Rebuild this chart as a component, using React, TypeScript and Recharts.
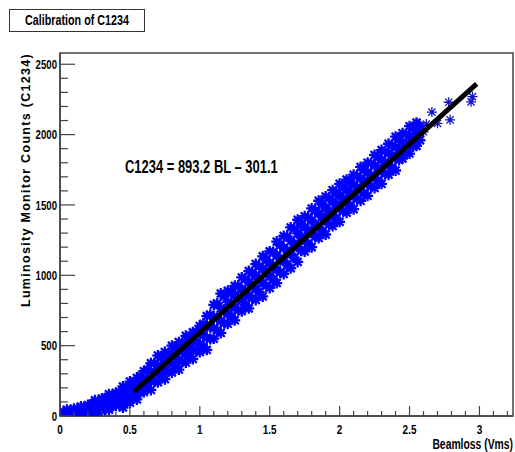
import { ReferenceArea, Scatter, ScatterChart, XAxis, YAxis } from 'recharts'

// blue band, read row by row (lower edge, inner rows, upper edge)
const beamloss = [
  0.05, 0.1, 0.15, 0.2, 0.25, 0.3, 0.35, 0.4, 0.45, 0.5, 0.55, 0.6, 0.65, 0.7,
  0.75, 0.8, 0.85, 0.9, 0.95, 1.0, 1.05, 1.1, 1.15, 1.2, 1.25, 1.3, 1.35, 1.4,
  1.45, 1.5, 1.55, 1.6, 1.65, 1.7, 1.75, 1.8, 1.85, 1.9, 1.95, 2.0, 2.05, 2.1,
  2.15, 2.2, 2.25, 2.3, 2.35, 2.4, 2.45, 2.5, 2.55,
]
const countsLow = [
  0, 2, 4, 12, 14, 35, 44, 75, 60, 95, 118, 170, 185, 240, 262, 310, 330, 380,
  405, 455, 470, 550, 590, 655, 680, 745, 765, 825, 850, 910, 945, 1010, 1050,
  1095, 1170, 1200, 1265, 1290, 1350, 1380, 1445, 1470, 1530, 1565, 1620, 1650,
  1715, 1745, 1830, 1865, 1920,
]
const countsMidLow = [
  3, 9, 16, 30, 40, 66, 80, 106, 112, 142, 170, 218, 248, 300, 328, 370, 398,
  442, 468, 515, 555, 625, 675, 730, 770, 820, 855, 905, 945, 995, 1040, 1100,
  1150, 1200, 1245, 1300, 1340, 1390, 1425, 1475, 1515, 1560, 1600, 1650, 1690,
  1740, 1780, 1830, 1880, 1930, 1965,
]
const countsMidHigh = [
  22, 31, 43, 58, 78, 96, 118, 138, 168, 190, 228, 265, 320, 362, 400, 432, 470,
  502, 540, 578, 645, 705, 765, 812, 858, 900, 952, 995, 1045, 1085, 1140, 1195,
  1245, 1298, 1340, 1390, 1440, 1480, 1525, 1565, 1605, 1640, 1690, 1730, 1780,
  1820, 1870, 1910, 1945, 1990, 2030,
]
const countsHigh = [
  45, 52, 68, 78, 112, 125, 155, 165, 210, 245, 270, 318, 375, 430, 455, 500,
  525, 570, 595, 640, 710, 790, 870, 890, 925, 985, 1030, 1080, 1135, 1170, 1240,
  1280, 1340, 1395, 1420, 1475, 1530, 1560, 1605, 1650, 1680, 1715, 1770, 1800,
  1855, 1890, 1935, 1985, 2010, 2060, 2085,
]

// second pass of readings, between the columns above
const beamlossB = [
  0.025, 0.075, 0.125, 0.175, 0.225, 0.275, 0.325, 0.375, 0.425, 0.475, 0.525,
  0.575, 0.625, 0.675, 0.725, 0.775, 0.825, 0.875, 0.925, 0.975, 1.025, 1.075,
  1.125, 1.175, 1.225, 1.275, 1.325, 1.375, 1.425, 1.475, 1.525, 1.575, 1.625,
  1.675, 1.725, 1.775, 1.825, 1.875, 1.925, 1.975, 2.025, 2.075, 2.125, 2.175,
  2.225, 2.275, 2.325, 2.375, 2.425, 2.475, 2.525, 2.575,
]
const countsLowB = [
  0, 0, 3, 10, 20, 32, 50, 70, 80, 100, 130, 165, 200, 245, 282, 315, 352, 385,
  420, 460, 490, 548, 610, 660, 705, 752, 790, 835, 880, 925, 970, 1020, 1075,
  1125, 1175, 1225, 1272, 1315, 1360, 1405, 1455, 1495, 1540, 1585, 1630, 1675,
  1720, 1765, 1820, 1870, 1915, 1960,
]
const countsMidB = [
  8, 16, 27, 36, 55, 72, 88, 112, 133, 150, 185, 222, 265, 305, 350, 385, 420,
  455, 490, 522, 575, 630, 695, 748, 795, 840, 885, 930, 975, 1020, 1062, 1118,
  1175, 1225, 1270, 1322, 1365, 1415, 1455, 1500, 1540, 1582, 1625, 1668, 1710,
  1760, 1805, 1850, 1895, 1940, 1982, 2012,
]
const countsHighB = [
  30, 40, 50, 62, 85, 104, 128, 140, 172, 205, 235, 285, 330, 375, 415, 445, 480,
  520, 555, 600, 655, 720, 800, 850, 880, 925, 975, 1020, 1065, 1110, 1165, 1215,
  1275, 1330, 1365, 1410, 1460, 1505, 1550, 1590, 1625, 1665, 1705, 1750, 1795,
  1840, 1880, 1925, 1965, 2005, 2045, 2060,
]

// isolated points at the top end
const outlierBeamloss = [2.6, 2.62, 2.66, 2.7, 2.78, 2.79, 2.94, 2.95]
const outlierCounts = [2020, 2075, 2160, 2080, 2230, 2105, 2233, 2270]

// fit C1234 = 893.2 BL - 301.1
const fitBeamloss = [0.53, 2.98]
const fitCounts = [172.3, 2360.6]

const xTicks = [
  0, 0.1, 0.2, 0.3, 0.4, 0.5, 0.6, 0.7, 0.8, 0.9, 1, 1.1, 1.2, 1.3, 1.4, 1.5,
  1.6, 1.7, 1.8, 1.9, 2, 2.1, 2.2, 2.3, 2.4, 2.5, 2.6, 2.7, 2.8, 2.9, 3, 3.1, 3.2,
]
const xLabels = [0, 0.5, 1, 1.5, 2, 2.5, 3]
const yTicks = [
  0, 100, 200, 300, 400, 500, 600, 700, 800, 900, 1000, 1100, 1200, 1300, 1400,
  1500, 1600, 1700, 1800, 1900, 2000, 2100, 2200, 2300, 2400, 2500,
]
const yLabels = [0, 500, 1000, 1500, 2000, 2500]

const FONT = "'Liberation Sans', Arial, sans-serif"
const AXIS = '#444'
const SQUEEZE = 0.74

const toPoints = (xs: number[], ys: number[]) => ys.map((c, i) => ({ bl: xs[i], c }))
const bandPoints = [
  ...toPoints(beamloss, countsLow),
  ...toPoints(beamlossB, countsLowB),
  ...toPoints(beamloss, countsMidLow),
  ...toPoints(beamlossB, countsMidB),
  ...toPoints(beamloss, countsMidHigh),
  ...toPoints(beamlossB, countsHighB),
  ...toPoints(beamloss, countsHigh),
]
const outlierPoints = toPoints(outlierBeamloss, outlierCounts)
const fitData = toPoints(fitBeamloss, fitCounts)

function starPath(cx: number, cy: number, r: number) {
  const d = r * 0.72
  return `M${cx - r},${cy}H${cx + r}M${cx},${cy - r}V${cy + r}M${cx - d},${cy - d}L${cx + d},${cy + d}M${cx - d},${cy + d}L${cx + d},${cy - d}`
}

function BandStar(props: any) {
  const { cx, cy } = props
  if (cx == null || cy == null) return null
  return <path d={starPath(cx, cy, 5.5)} stroke='#0000ff' strokeWidth={2.3} fill='none' />
}

function ThinStar(props: any) {
  const { cx, cy } = props
  if (cx == null || cy == null) return null
  return <path d={starPath(cx, cy, 5)} stroke='#1515c8' strokeWidth={1.3} fill='none' />
}

function XTick(props: any) {
  const { x, y, payload } = props
  const major = xLabels.includes(payload.value)
  return (
    <g>
      <line x1={x} x2={x} y1={y} y2={y - (major ? 10 : 5)} stroke={AXIS} strokeWidth={1.2} />
      {major && (
        <text transform={`translate(${x},${y + 13}) scale(${SQUEEZE},1)`} textAnchor='middle'
          dominantBaseline='central' fontFamily={FONT} fontWeight='bold' fontSize={13.5} fill='#000'>
          {payload.value}
        </text>
      )}
    </g>
  )
}

function YTick(props: any) {
  const { x, y, payload } = props
  const major = yLabels.includes(payload.value)
  return (
    <g>
      <line x1={x} x2={x + (major ? 15 : 8)} y1={y} y2={y} stroke={AXIS} strokeWidth={1.2} />
      {major && (
        <text transform={`translate(${x - 3},${y}) scale(${SQUEEZE},1)`} textAnchor='end'
          dominantBaseline='central' fontFamily={FONT} fontWeight='bold' fontSize={13} fill='#000'>
          {payload.value}
        </text>
      )}
    </g>
  )
}

const squeezed = (origin: string) => ({
  transform: `scaleX(${SQUEEZE})`,
  transformOrigin: origin,
  whiteSpace: 'nowrap' as const,
})

export default function App() {
  return (
    <div style={{ position: 'absolute', left: 0, top: 0, width: 515, height: 452, background: '#fff' }}>
      <ScatterChart width={515} height={452} margin={{ top: 53, right: 2, bottom: 0, left: 10 }}>
        <XAxis
          type='number'
          dataKey='bl'
          domain={[0, 3.24]}
          ticks={xTicks}
          interval={0}
          height={36}
          tickSize={0}
          tickMargin={0}
          tick={<XTick />}
          axisLine={{ stroke: AXIS, strokeWidth: 1.5 }}
          allowDataOverflow
        />
        <YAxis
          type='number'
          dataKey='c'
          domain={[0, 2580]}
          ticks={yTicks}
          interval={0}
          width={50}
          tickSize={0}
          tickMargin={0}
          tick={<YTick />}
          axisLine={{ stroke: AXIS, strokeWidth: 1.5 }}
          allowDataOverflow
        />
        <ReferenceArea x1={0} x2={3.24} y1={0} y2={2580} fill='none' stroke={AXIS} strokeWidth={1.5} />
        <Scatter data={bandPoints} shape={<BandStar />} isAnimationActive={false} />
        <Scatter data={outlierPoints} shape={<ThinStar />} isAnimationActive={false} />
        <Scatter
          data={fitData}
          line={{ stroke: '#000', strokeWidth: 5 }}
          shape={() => <g />}
          isAnimationActive={false}
        />
      </ScatterChart>
      <div style={{
        position: 'absolute', left: 9, top: 9, width: 134, height: 21,
        border: '1.5px solid #333', background: '#fff',
      }} />
      <div style={{
        position: 'absolute', left: 0, top: 10, width: 154, lineHeight: '21px', textAlign: 'center',
        fontFamily: FONT, fontWeight: 'bold', fontSize: 14.5, color: '#000', ...squeezed('77px 50%'),
      }}>
        Calibration of C1234
      </div>
      <div style={{
        position: 'absolute', left: 125, top: 157, fontFamily: FONT, fontWeight: 'bold', fontSize: 17.5,
        lineHeight: '20px', color: '#000', ...squeezed('0 50%'),
      }}>
        C1234 = 893.2 BL – 301.1
      </div>
      <div style={{
        position: 'absolute', left: 26 - 150, top: 180 - 10, width: 300, height: 20,
        transform: 'rotate(-90deg)', textAlign: 'center', fontFamily: FONT,
        fontWeight: 'bold', fontSize: 12.5, letterSpacing: 1.3, lineHeight: '20px', whiteSpace: 'nowrap', color: '#000',
      }}>
        Luminosity Monitor Counts (C1234)
      </div>
      <div style={{
        position: 'absolute', left: 0, top: 436, width: 513, textAlign: 'right',
        fontFamily: FONT, fontWeight: 'bold', fontSize: 14, lineHeight: '16px', color: '#000',
        ...squeezed('100% 50%'),
      }}>
        Beamloss (Vms)
      </div>
    </div>
  )
}
